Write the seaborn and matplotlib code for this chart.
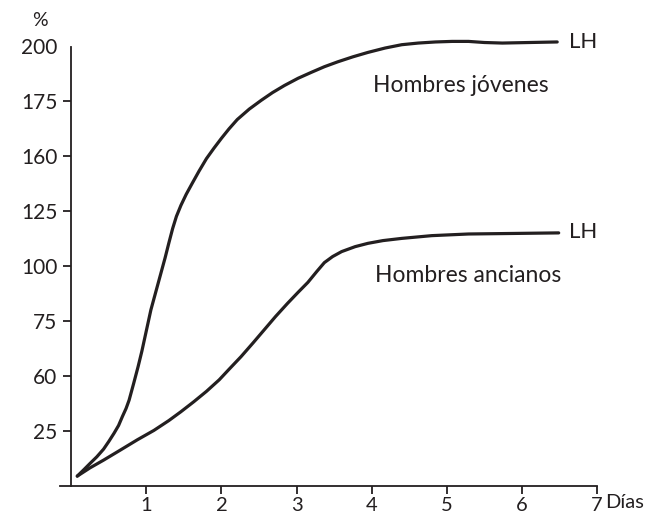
import matplotlib
matplotlib.use("Agg")
import matplotlib.pyplot as plt
import pandas as pd
import seaborn as sns

# x = días, y = posición en el eje (los rótulos del eje no son lineales)
young_x = [0.08, 0.17, 0.25, 0.34, 0.43, 0.50, 0.57, 0.63, 0.68, 0.73, 0.77, 0.83,
           0.89, 0.94, 0.98, 1.02, 1.06, 1.11, 1.15, 1.20, 1.25, 1.30, 1.35, 1.40,
           1.46, 1.53, 1.61, 1.70, 1.80, 1.90, 2.00, 2.10, 2.21, 2.37, 2.53, 2.68,
           2.84, 3.02, 3.20, 3.37, 3.55, 3.75, 3.95, 4.18, 4.40, 4.62, 4.85, 5.07,
           5.29, 5.50, 5.74, 6.10, 6.47]
young_y = [0.18, 0.30, 0.41, 0.53, 0.67, 0.81, 0.96, 1.10, 1.26, 1.41, 1.56, 1.86,
           2.17, 2.45, 2.70, 2.95, 3.20, 3.45, 3.65, 3.90, 4.15, 4.42, 4.68, 4.90,
           5.10, 5.30, 5.50, 5.72, 5.95, 6.14, 6.32, 6.49, 6.66, 6.85, 7.01, 7.15,
           7.28, 7.41, 7.52, 7.62, 7.71, 7.80, 7.88, 7.96, 8.02, 8.05, 8.07, 8.08,
           8.08, 8.06, 8.05, 8.06, 8.07]
old_x = [0.08, 0.25, 0.43, 0.65, 0.88, 1.10, 1.30, 1.46, 1.63, 1.80, 1.97, 2.10,
         2.26, 2.42, 2.57, 2.72, 2.88, 3.02, 3.15, 3.27, 3.37, 3.48, 3.60, 3.78,
         3.95, 4.15, 4.40, 4.80, 5.29, 5.90, 6.49]
old_y = [0.18, 0.33, 0.47, 0.65, 0.84, 1.01, 1.19, 1.35, 1.53, 1.72, 1.93, 2.12,
         2.35, 2.60, 2.84, 3.08, 3.32, 3.52, 3.70, 3.90, 4.06, 4.17, 4.26, 4.35,
         4.41, 4.46, 4.50, 4.55, 4.58, 4.59, 4.60]

x_ticks = [1, 2, 3, 4, 5, 6, 7]
y_ticks = [1, 2, 3, 4, 5, 6, 7, 8]
y_labels = ["25", "60", "75", "100", "125", "160", "175", "200"]

ink = "#231f20"

df = pd.concat([
    pd.DataFrame({"dias": young_x, "pos": young_y, "grupo": "Hombres jóvenes"}),
    pd.DataFrame({"dias": old_x, "pos": old_y, "grupo": "Hombres ancianos"}),
])

sns.set_theme(style="white")
plt.rcParams["font.family"] = ["Lato", "DejaVu Sans"]

fig = plt.figure(figsize=(6.7, 5.18), dpi=100)
ax = fig.add_axes([60 / 670, 32 / 518, 537 / 670, 460 / 518])

sns.lineplot(data=df, x="dias", y="pos", units="grupo", estimator=None, sort=False,
             color=ink, linewidth=2.3, ax=ax, legend=False)
for ln in ax.lines:
    ln.set_solid_joinstyle("round")
    ln.set_solid_capstyle("round")

ax.set_xlim(-0.15, 7.0)
ax.set_ylim(0, 8.36)
ax.spines["top"].set_visible(False)
ax.spines["right"].set_visible(False)
for s in ("left", "bottom"):
    ax.spines[s].set_color(ink)
    ax.spines[s].set_linewidth(1.3)
ax.spines["left"].set_position(("data", 0))
ax.spines["left"].set_bounds(0, 7.98)

ax.set_xticks(x_ticks)
ax.set_xticklabels([str(t) for t in x_ticks])
ax.set_yticks(y_ticks)
ax.set_yticklabels(y_labels)
ax.tick_params(axis="both", direction="out", length=6, width=1.3, color=ink,
               labelcolor=ink, labelsize=15, pad=4, left=True, bottom=True)
ax.tick_params(axis="x", pad=2, labelsize=14.5)
ax.yaxis.get_major_ticks()[-1].tick1line.set_visible(False)
ax.set_xlabel("")
ax.set_ylabel("")

ax.text(6.63, 8.07, "LH", ha="left", va="center", fontsize=16, color=ink)
ax.text(6.63, 4.62, "LH", ha="left", va="center", fontsize=16, color=ink)
ax.text(4.02, 7.27, "Hombres jóvenes", ha="left", va="center", fontsize=16.5, color=ink)
ax.text(4.04, 3.82, "Hombres ancianos", ha="left", va="center", fontsize=16.5, color=ink)
fig.text(605 / 670, 1 - 503 / 518, "Días", ha="left", va="center", fontsize=14.5, color=ink)
fig.text(40 / 670, 1 - 21 / 518, "%", ha="center", va="center", fontsize=14, color=ink)

fig.savefig("out.png", dpi=100)
